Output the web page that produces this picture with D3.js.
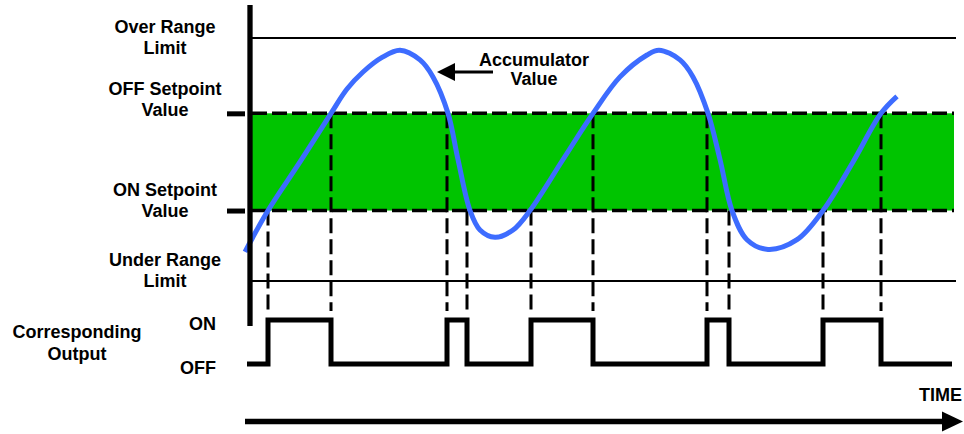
<!DOCTYPE html>
<html>
<head>
<meta charset="utf-8">
<script src="https://cdn.jsdelivr.net/npm/d3@7"></script>
<style>
  body { margin: 0; background: #fff; }
  svg text { font-family: "Liberation Sans", Arial, sans-serif; font-weight: bold; font-size: 18px; fill: #000; }
</style>
</head>
<body>
<svg id="chart" width="964" height="434"></svg>
<script>
// levels on the value axis (percent of range)
const levelKeys = ["over", "off", "on", "under"];
const levelValues = [100, 69, 29, 0];
const levelLabels = [["Over Range", "Limit"], ["OFF Setpoint", "Value"], ["ON Setpoint", "Value"], ["Under Range", "Limit"]];

// accumulator value
const curveTimes = [0, 23, 55, 86, 102, 118, 137, 155, 175, 188, 203, 213, 225, 235, 250, 268, 285, 318, 348, 375, 402, 414, 435, 448, 463, 475, 487, 502, 523, 552, 578, 608, 636, 652];
const curveValues = [12, 29, 49, 69, 79, 86, 92, 95, 91, 84, 69, 50, 29, 21, 18, 21, 29, 50, 69, 84, 93, 95, 91, 84, 69, 50, 29, 17, 13, 17, 29, 49, 69, 76];

// output switching
const outputStates = ["ON", "OFF"];
const switchTimes = [23, 86, 202, 222, 286, 348, 462, 484, 578, 636];
const switchStates = ["ON", "OFF", "ON", "OFF", "ON", "OFF", "ON", "OFF", "ON", "OFF"];
const switchLevels = ["on", "off", "off", "on", "on", "off", "off", "on", "on", "off"];
const outputStart = 2;
const outputEnd = 707;

const annotationTime = 190;
const annotationValue = 86;

const svg = d3.select("#chart");
const x = d3.scaleLinear().domain([0, 712]).range([245, 957]);
const y = d3.scaleLinear().domain([0, 100]).range([281, 38]);
const yOut = d3.scalePoint().domain(outputStates).range([320, 364]);
const level = k => y(levelValues[levelKeys.indexOf(k)]);

const plotLeft = 252;
const axisX = 250;

// green band between setpoints
svg.append("rect")
  .attr("x", plotLeft)
  .attr("y", level("off"))
  .attr("width", 954 - plotLeft)
  .attr("height", level("on") - level("off"))
  .attr("fill", "#00c400");

// range limits
svg.selectAll(".limit")
  .data(["over", "under"])
  .join("line")
  .attr("x1", plotLeft).attr("x2", 956)
  .attr("y1", d => level(d)).attr("y2", d => level(d))
  .attr("stroke", "#000").attr("stroke-width", 2);

// setpoint dashed lines
svg.selectAll(".setpoint")
  .data(["off", "on"])
  .join("line")
  .attr("x1", plotLeft).attr("x2", 954)
  .attr("y1", d => level(d)).attr("y2", d => level(d))
  .attr("stroke", "#000").attr("stroke-width", 3.5)
  .attr("stroke-dasharray", "15 5");

// dashed drop lines to the output
svg.selectAll(".drop")
  .data(switchTimes)
  .join("line")
  .attr("x1", d => x(d)).attr("x2", d => x(d))
  .attr("y1", (d, i) => level(switchLevels[i]))
  .attr("y2", 311)
  .attr("stroke", "#000").attr("stroke-width", 3)
  .attr("stroke-dasharray", "15 6");

// accumulator curve
const curveData = curveTimes.map((t, i) => ({ t, v: curveValues[i] }));
svg.append("path")
  .datum(curveData)
  .attr("fill", "none")
  .attr("stroke", "#3d6cff")
  .attr("stroke-width", 5)
  .attr("d", d3.line()
    .x(d => x(d.t))
    .y(d => y(d.v))
    .curve(d3.curveCatmullRom.alpha(0.5)));

// output waveform
const outData = [{ t: outputStart, s: "OFF" }]
  .concat(switchTimes.map((t, i) => ({ t, s: switchStates[i] })))
  .concat([{ t: outputEnd, s: switchStates[switchStates.length - 1] }]);
svg.append("path")
  .datum(outData)
  .attr("fill", "none")
  .attr("stroke", "#000")
  .attr("stroke-width", 5)
  .attr("d", d3.line()
    .x(d => x(d.t))
    .y(d => yOut(d.s))
    .curve(d3.curveStepAfter));

// vertical axis
svg.append("line")
  .attr("x1", axisX).attr("x2", axisX)
  .attr("y1", 5).attr("y2", 326)
  .attr("stroke", "#000").attr("stroke-width", 5.3);

// setpoint tick marks
const setTicks = svg.append("g")
  .attr("transform", "translate(245,0)")
  .call(d3.axisLeft(y).tickValues([levelValues[1], levelValues[2]]).tickSize(18).tickFormat(""));
setTicks.select(".domain").remove();
setTicks.selectAll("line").attr("stroke", "#000").attr("stroke-width", 5);

// level labels
const labelShift = { over: 16, off: 3, on: 6, under: 6 };
levelKeys.forEach((k, i) => {
  const lines = levelLabels[i];
  const base = level(k) + labelShift[k];
  lines.forEach((txt, j) => {
    svg.append("text")
      .attr("x", 165)
      .attr("y", base - (lines.length - 1 - j) * 21)
      .attr("text-anchor", "middle")
      .text(txt);
  });
});

// output state labels
const outAxis = svg.append("g")
  .attr("transform", `translate(${axisX},0)`)
  .call(d3.axisLeft(yOut).tickSize(0).tickPadding(34));
outAxis.select(".domain").remove();
outAxis.attr("font-family", null).attr("font-size", null);
outAxis.selectAll("text").attr("dy", "0.55em");

const outMid = (yOut("ON") + yOut("OFF")) / 2;
["Corresponding", "Output"].forEach((txt, j) => {
  svg.append("text")
    .attr("x", 77)
    .attr("y", outMid - 4 + j * 22)
    .attr("text-anchor", "middle")
    .text(txt);
});

// accumulator annotation
const tipX = x(annotationTime) + 2, tipY = y(annotationValue);
svg.append("line")
  .attr("x1", tipX + 16).attr("x2", 493)
  .attr("y1", tipY).attr("y2", tipY)
  .attr("stroke", "#000").attr("stroke-width", 3);
svg.append("path")
  .attr("d", `M${tipX},${tipY}L${tipX + 18},${tipY - 9}L${tipX + 18},${tipY + 9}Z`)
  .attr("fill", "#000");
["Accumulator", "Value"].forEach((txt, j) => {
  svg.append("text")
    .attr("x", 534)
    .attr("y", 66 + j * 19)
    .attr("text-anchor", "middle")
    .text(txt);
});

// time arrow
const timeY = 421.5;
const timeEnd = x(718);
svg.append("line")
  .attr("x1", x(0)).attr("x2", timeEnd - 18)
  .attr("y1", timeY).attr("y2", timeY)
  .attr("stroke", "#000").attr("stroke-width", 5.5);
svg.append("path")
  .attr("d", `M${timeEnd},${timeY}L${timeEnd - 21},${timeY - 10}L${timeEnd - 21},${timeY + 10}Z`)
  .attr("fill", "#000");
svg.append("text")
  .attr("x", 962)
  .attr("y", 401)
  .attr("text-anchor", "end")
  .text("TIME");
</script>
</body>
</html>
